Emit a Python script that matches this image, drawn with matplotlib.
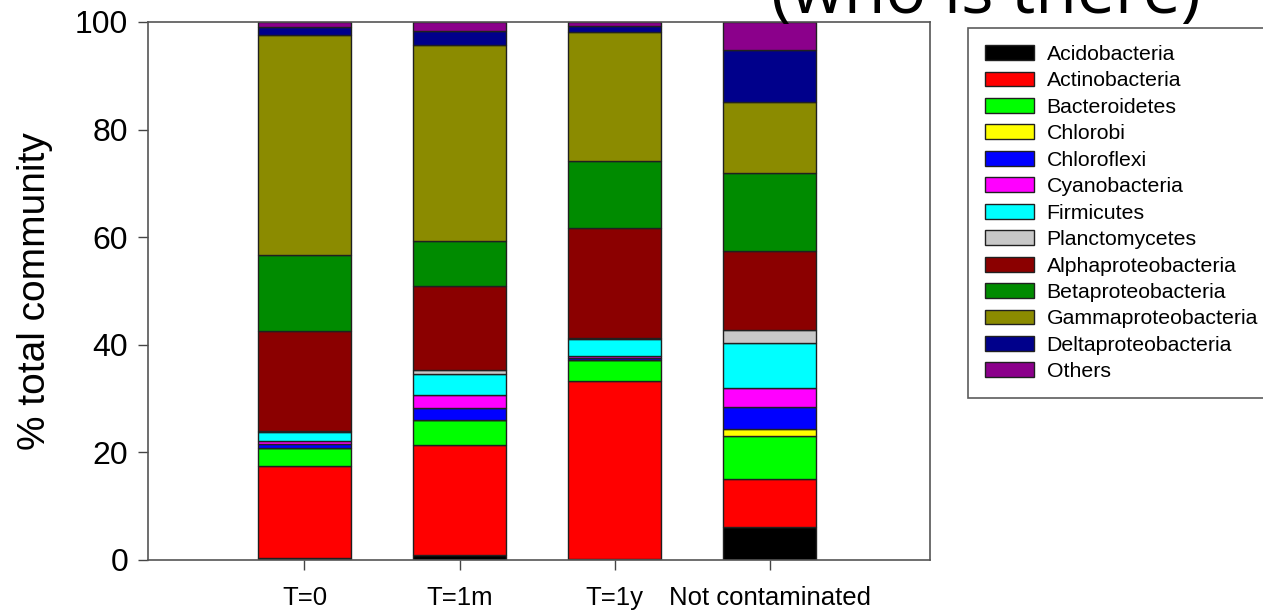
import numpy as np
import matplotlib.pyplot as plt

plt.rcParams['font.family'] = ['Liberation Sans', 'DejaVu Sans']

samples = ['T=0', 'T=1m', 'T=1y', 'Not contaminated']
taxa = ['Acidobacteria', 'Actinobacteria', 'Bacteroidetes', 'Chlorobi',
        'Chloroflexi', 'Cyanobacteria', 'Firmicutes', 'Planctomycetes',
        'Alphaproteobacteria', 'Betaproteobacteria', 'Gammaproteobacteria',
        'Deltaproteobacteria', 'Others']
colors = ['#000000', '#ff0000', '#00ff00', '#ffff00', '#0000ff', '#ff00ff',
          '#00ffff', '#c8c8c8', '#8b0000', '#008b00', '#8b8b00', '#00008b',
          '#8b008b']

# % of community per taxon, one list per sample
t0 = [0.3, 17.2, 3.3, 0.0, 0.7, 0.6, 1.6, 0.2, 18.6, 14.2, 40.8, 1.6, 0.9]
t1m = [1.0, 20.3, 4.8, 0.0, 2.1, 2.5, 3.9, 0.7, 15.7, 8.3, 36.4, 2.6, 1.7]
t1y = [0.2, 33.1, 3.8, 0.0, 0.5, 0.4, 3.1, 0.1, 20.5, 12.4, 24.0, 1.1, 0.8]
clean = [6.2, 8.8, 8.0, 1.3, 4.2, 3.5, 8.3, 2.4, 14.8, 14.5, 13.2, 9.6, 5.2]

data = np.array([t0, t1m, t1y, clean]).T  # rows = taxa

fig = plt.figure(figsize=(12.63, 6.10), dpi=100)
ax = fig.add_axes([0.117, 0.082, 0.619, 0.882])

x = np.arange(len(samples))
bottom = np.zeros(len(samples))
for name, col, vals in zip(taxa, colors, data):
    ax.bar(x, vals, 0.6, bottom=bottom, color=col, edgecolor='#202020',
           linewidth=1, label=name)
    bottom += vals

ax.set_xlim(-1.01, 4.03)
ax.set_ylim(0, 100)
ax.set_xticks(x)
ax.set_xticklabels(samples, fontsize=18.5)
ax.set_yticks(np.arange(0, 101, 20))
ax.tick_params(axis='y', labelsize=23, length=7, width=1, color='#444444', pad=7)
ax.tick_params(axis='x', length=7, width=1, color='#444444', pad=12)
ax.set_ylabel('% total community', fontsize=28, labelpad=16)
for s in ax.spines.values():
    s.set_color('#555555')
    s.set_linewidth(1.2)

# legend box runs off the right edge of the figure
leg = ax.legend(loc='upper left', bbox_to_anchor=(968 / 1263, 1 - 28 / 610),
                bbox_transform=fig.transFigure, fontsize=15.3, frameon=True,
                fancybox=False, edgecolor='#333333', handlelength=2.3,
                handleheight=0.7, labelspacing=0.35, handletextpad=0.6,
                borderpad=0.8, borderaxespad=0)
leg.get_frame().set_linewidth(1.2)

fig.text(0.781, 0.979, '(who is there)', fontsize=49, family='Open Sans',
         ha='center', va='baseline')

fig.savefig('out.png', dpi=100)
